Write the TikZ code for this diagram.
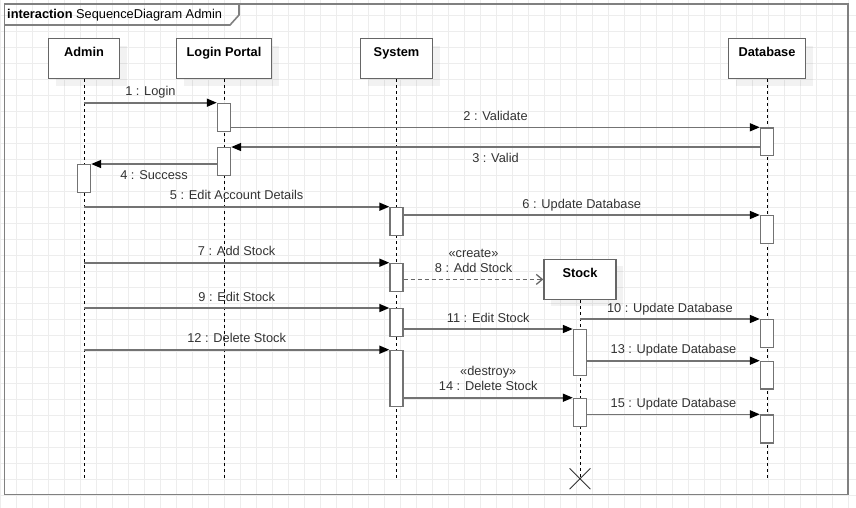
\documentclass[tikz,border=0pt]{standalone}
\usepackage{fontspec}
\setmainfont{Liberation Sans}
\usetikzlibrary{arrows.meta}
\usetikzlibrary{shadows}
\usetikzlibrary{shapes.misc}
\newcommand{\lw}{1.4pt}
\newcommand{\TS}{\fontsize{12.8}{15.5}\selectfont}
\newcommand{\Act}[4]{\node[act,anchor=north,minimum height=#4-#3] (#1) at (#2 |- 0,#3) {};}
\tikzset{
  gridline/.style={draw=black!7,line width=0.8pt},
  frame/.style={draw=black!50,line width=1.6pt},
  head/.style={draw=black!60,line width=\lw,fill=white,font=\TS\bfseries,minimum height=40pt,
               inner ysep=8.5pt,text height=9.5pt,text depth=13.5pt,
               drop shadow={shadow xshift=7pt,shadow yshift=-7pt,fill=black,opacity=0.05}},
  act/.style={draw=black!55,line width=\lw,fill=white,minimum width=13pt,inner sep=0pt},
  lifeline/.style={black,line width=0.8pt,dash pattern=on 3pt off 3pt},
  msg/.style={draw=black!55,line width=1.6pt,-{Triangle[length=10pt,width=8pt,color=black]}},
  create/.style={draw=black!60,line width=1.3pt,dash pattern=on 4pt off 3pt,-{Straight Barb[length=6pt,width=10pt]}},
  lblabove/.style={above=6pt,inner sep=0pt,text depth=0pt,text=black!80},
  lblbelow/.style={below=5pt,inner sep=0pt,text height=9.2pt,text=black!80},
  lbltwo/.style={above=6pt,inner sep=0pt,align=center,text=black!80}
}

\begin{document}
\begin{tikzpicture}[x=1pt,y=-1pt,font=\TS]
    \path[use as bounding box,fill=white] (0,0) rectangle (856,507);
    \draw[gridline,xshift=0.7pt,yshift=0.5pt] (-1,508) grid[step=16pt] (856,-1);

    % frame
    \draw[frame] (4.5,4) rectangle (848,494.5);
    \draw[frame] (4.5,25) -- (230,25) -- (239,15) -- (239,4);
    \node[anchor=base west,inner sep=0pt] (frameTitle) at (7,18.5) {\textbf{interaction} SequenceDiagram Admin};

    % lifelines
    \node[head,minimum width=71pt] (admin) at (84,58.5) {Admin};
    \node[head,minimum width=95pt] (portal) at (224,58.5) {Login Portal};
    \node[head,minimum width=72pt] (system) at (396.5,58.5) {System};
    \node[head,minimum width=77pt] (database) at (767,58.5) {Database};
    \node[head,minimum width=72pt] (stock) at (580,279.4) {Stock};
    \coordinate (lifeEnd) at (0,477.5);
    \node[cross out,draw=black!80,line width=0.8pt,minimum size=20pt,inner sep=0pt] (kill) at (stock |- 0,478.7) {};

    \foreach \who in {admin,portal,system,database}
        \draw[lifeline] (\who.south) -- (\who |- lifeEnd);
    \draw[lifeline] (stock.south) -- (kill.center);

    % activations
    \Act{lp1}{portal}{102.7}{130.7}
    \Act{db1}{database}{127.3}{155}
    \Act{lp2}{portal}{147}{175}
    \Act{ad1}{admin}{164}{192}
    \Act{sy1}{system}{206.7}{235}
    \Act{db2}{database}{215}{242.7}
    \Act{sy2}{system}{262.7}{290.7}
    \Act{sy3}{system}{308}{335.7}
    \Act{db3}{database}{319}{346.7}
    \Act{st1}{stock}{329}{374.7}
    \Act{sy4}{system}{349.7}{406}
    \Act{db4}{database}{360.7}{388.3}
    \Act{st2}{stock}{397.7}{425.7}
    \Act{db5}{database}{414.3}{442.3}

    % messages
    \draw[msg] (lp1.north west -| admin) -- node[lblabove] (m1) {1 : Login} (lp1.north west);
    \draw[msg] (db1.north west -| lp1.east) -- node[lblabove] (m2) {2 : Validate} (db1.north west);
    \draw[msg] (lp2.north east -| db1.west) -- node[lblbelow] (m3) {3 : Valid} (lp2.north east);
    \draw[msg] (ad1.north east -| lp2.west) -- node[lblbelow] (m4) {4 : Success} (ad1.north east);
    \draw[msg] (sy1.north west -| admin) -- node[lblabove] (m5) {5 : Edit Account Details} (sy1.north west);
    \draw[msg] (db2.north west -| sy1.east) -- node[lblabove] (m6) {6 : Update Database} (db2.north west);
    \draw[msg] (sy2.north west -| admin) -- node[lblabove] (m7) {7 : Add Stock} (sy2.north west);
    \draw[create] (stock.west -| sy2.east) -- node[lbltwo] (m8) {«create»\\8 : Add Stock} (stock.west);
    \draw[msg] (sy3.north west -| admin) -- node[lblabove] (m9) {9 : Edit Stock} (sy3.north west);
    \draw[msg] (db3.north west -| stock) -- node[lblabove] (m10) {10 : Update Database} (db3.north west);
    \draw[msg] (st1.north west -| sy3.east) -- node[lblabove] (m11) {11 : Edit Stock} (st1.north west);
    \draw[msg] (sy4.north west -| admin) -- node[lblabove] (m12) {12 : Delete Stock} (sy4.north west);
    \draw[msg] (db4.north west -| st1.east) -- node[lblabove] (m13) {13 : Update Database} (db4.north west);
    \draw[msg] (st2.north west -| sy4.east) -- node[lbltwo] (m14) {«destroy»\\14 : Delete Stock} (st2.north west);
    \draw[msg] (db5.north west -| st2.east) -- node[lblabove] (m15) {15 : Update Database} (db5.north west);
\end{tikzpicture}
\end{document}
